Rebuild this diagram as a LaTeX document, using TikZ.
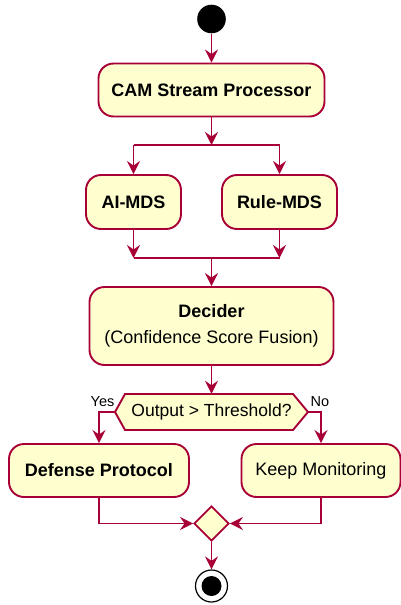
\documentclass[tikz,border=0pt]{standalone}
\usepackage{fontspec}
\setmainfont{Liberation Sans}
\usetikzlibrary{arrows.meta,shapes.geometric}
\definecolor{umlborder}{HTML}{A80036}
\definecolor{umlfill}{HTML}{FEFECE}
\begin{document}
\begin{tikzpicture}[x=1pt,y=-1pt,
  act/.style={draw=umlborder,fill=umlfill,line width=1.9pt,rounded corners=15pt,
    inner sep=0pt,align=center,font=\fontsize{18}{25}\selectfont},
  flow/.style={draw=umlborder,line width=1.9pt,-{Stealth[length=13pt,width=13pt,inset=4.5pt]}},
  bar/.style={draw=umlborder,line width=1.9pt},
  lbl/.style={font=\fontsize{14.5}{16}\selectfont,inner sep=0pt}]
\useasboundingbox (0,0) rectangle (400,605);
% nodes
\node[circle,fill=black,minimum size=28.6pt,inner sep=0pt] (start) at (211.5,19) {};
\node[act,minimum width=226pt,minimum height=53pt] (cam) at (211.5,90) {\bfseries CAM Stream Processor};
\coordinate (forkc) at (211.5,145);
\coordinate (forkl) at (133.5,145);
\coordinate (forkr) at (279.5,145);
\node[act,minimum width=95pt,minimum height=54pt] (ai) at (133.5,202) {\bfseries AI-MDS};
\node[act,minimum width=115pt,minimum height=54pt] (rule) at (279.5,202) {\bfseries Rule-MDS};
\coordinate (joinl) at (133.5,258);
\coordinate (joinr) at (279.5,258);
\coordinate (joinc) at (211.5,258);
\node[act,minimum width=244pt,minimum height=78pt] (dec) at (211.5,326) {\textbf{Decider}\\[1pt](Confidence Score Fusion)};
\coordinate (qc) at (211.5,412);
\filldraw[draw=umlborder,fill=umlfill,line width=1.9pt,line join=miter]
  ([shift={(-96.5,0)}]qc) -- ([shift={(-86.5,-18)}]qc) -- ([shift={(81.5,-18)}]qc)
  -- ([shift={(96.5,0)}]qc) -- ([shift={(81.5,18)}]qc) -- ([shift={(-86.5,18)}]qc) -- cycle;
\node[minimum width=193pt,minimum height=36pt,inner sep=0pt,font=\fontsize{17.5}{20}\selectfont] (q) at (qc) {Output > Threshold?};
\node[lbl] (yes) at (102.5,402) {Yes};
\node[lbl] (no) at (320,402) {No};
\node[act,minimum width=180pt,minimum height=53pt] (def) at (99,470.5) {\bfseries Defense Protocol};
\node[act,minimum width=159pt,minimum height=53pt] (keep) at (321,470.5) {Keep Monitoring};
\node[diamond,draw=umlborder,fill=umlfill,line width=1.9pt,minimum width=35pt,minimum height=35pt,inner sep=0pt] (merge) at (211.5,523.5) {};
\node[circle,draw=black,fill=white,line width=1.2pt,minimum size=32pt,inner sep=0pt] (stop) at (211.5,586) {};
\node[circle,fill=black,minimum size=20pt,inner sep=0pt] (stopin) at (stop) {};
% connectors
\draw[flow] (start) -- (cam);
\draw[flow] (cam) -- (forkc);
\draw[bar] (forkl) -- (forkr);
\draw[flow] (forkl) -- (ai);
\draw[flow] (forkr) -- (rule);
\draw[flow] (ai) -- (joinl);
\draw[flow] (rule) -- (joinr);
\draw[bar] (joinl) -- (joinr);
\draw[flow] (joinc) -- (dec);
\draw[flow] (dec) -- (q.north);
\draw[flow] (q.west) -| (def.north);
\draw[flow] (q.east) -| (keep.north);
\draw[flow] (def.south) |- (merge.west);
\draw[flow] (keep.south) |- (merge.east);
\draw[flow] (merge) -- (stop);
\end{tikzpicture}
\end{document}
